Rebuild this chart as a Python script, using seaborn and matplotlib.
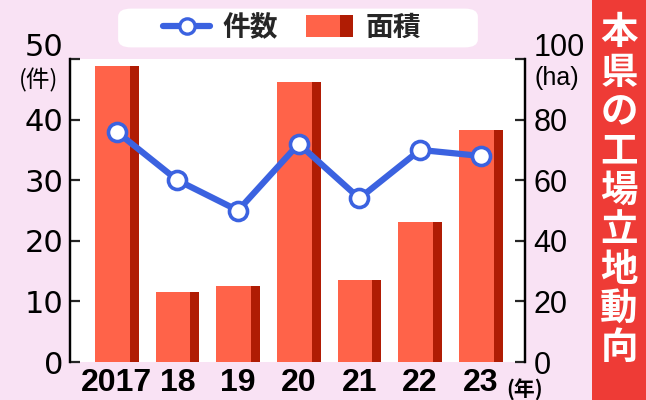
import matplotlib
matplotlib.use("Agg")
import matplotlib.pyplot as plt
import seaborn as sns
import pandas as pd
from matplotlib import font_manager
from matplotlib.patches import Rectangle, FancyBboxPatch
from matplotlib.lines import Line2D
from matplotlib.legend_handler import HandlerBase
import matplotlib.transforms as mtransforms

# ---- data ----
years = ["2017", "18", "19", "20", "21", "22", "23"]
counts = [38, 30, 25, 36, 27, 35, 34]          # 件数 (left axis)
areas = [97.6, 23.1, 25.0, 92.4, 27.0, 46.2, 76.5]  # 面積 ha (right axis)
left_ticks = [0, 10, 20, 30, 40, 50]
right_ticks = [0, 20, 40, 60, 80, 100]
title_text = "本県の工場立地動向"

# ---- style ----
BG = "#f9e2f4"
LIGHT = "#ff6349"
DARK = "#b01c04"
BLUE = "#3b62e0"
TITLE_RED = "#ee3b36"

sns.set_theme(style="white")
avail = {f.name for f in font_manager.fontManager.ttflist}
CJK = "Noto Sans CJK JP"
NARROW = "Liberation Sans Narrow" if "Liberation Sans Narrow" in avail else "Liberation Sans"
plt.rcParams["font.family"] = [CJK, "DejaVu Sans"]

fig = plt.figure(figsize=(6.46, 4.0), dpi=100, facecolor=BG)
W, H = 646, 400
ax = fig.add_axes([70 / W, 1 - 362 / H, (525 - 70) / W, (362 - 59) / H])
ax.set_facecolor("white")

df = pd.DataFrame({"year": years, "count": counts, "area": areas})

# bars (area) on primary axes, right scale
sns.barplot(data=df, x="year", y="area", ax=ax, color=LIGHT, saturation=1,
            width=0.72, edgecolor="none", linewidth=0)
for p in list(ax.patches):
    x0, w, h = p.get_x(), p.get_width(), p.get_height()
    dw = w * 0.2
    ax.add_patch(Rectangle((x0 + w - dw, 0), dw, h, facecolor=DARK,
                           edgecolor="none", zorder=p.get_zorder()))
ax.set_ylim(0, 100)
ax.set_xlim(-0.77, 6.73)

# line (counts) on twin axes, left scale
ax2 = ax.twinx()
sns.lineplot(data=df, x="year", y="count", ax=ax2, color=BLUE, lw=4.5,
             marker="o", markersize=13, markerfacecolor="white",
             markeredgecolor=BLUE, markeredgewidth=2.6, sort=False)
ax2.set_ylim(0, 50)
ax2.set_xlim(-0.77, 6.73)

# swap sides
ax.yaxis.tick_right()
ax.yaxis.set_label_position("right")
ax2.yaxis.tick_left()
ax2.yaxis.set_label_position("left")

for a in (ax, ax2):
    a.set_xlabel("")
    a.set_ylabel("")
    a.spines["top"].set_visible(False)
    a.spines["bottom"].set_visible(False)
    for s in ("left", "right"):
        a.spines[s].set_color("black")
        a.spines[s].set_linewidth(1.6)
    a.grid(False)

ax2.set_yticks(left_ticks)
ax2.set_yticklabels([str(t) for t in left_ticks], fontsize=22,
                    family="DejaVu Sans", color="black")
ax2.tick_params(axis="y", which="both", direction="in", length=7, width=1.6,
                pad=5, left=True, right=False, labelleft=True, labelright=False)

ax.set_yticks(right_ticks)
ax.set_yticklabels([str(t) for t in right_ticks], fontsize=22,
                   family=NARROW, color="black")
ax.tick_params(axis="y", which="both", direction="in", length=7, width=1.6,
               pad=6, left=False, right=True, labelleft=False, labelright=True)

ax.set_xticks(range(len(years)))
ax.set_xticklabels(years, fontsize=23, family=NARROW, fontweight="bold", color="black")
ax.tick_params(axis="x", length=0, pad=4)
ax2.tick_params(axis="x", length=0, labelbottom=False)

# shift top labels (50, 100) upward
for lab in (ax2.get_yticklabels()[-1], ax.get_yticklabels()[-1]):
    lab.set_transform(lab.get_transform() +
                      mtransforms.ScaledTranslation(0, 15 / 100, fig.dpi_scale_trans))

# unit labels
fig.text(39 / W, 1 - 80 / H, "(件)", ha="center", va="center", fontsize=17,
         family=[CJK], color="black")
fig.text(535 / W, 1 - 78 / H, "(ha)", ha="left", va="center", fontsize=18,
         family=[NARROW], color="black")
ax.text(6.73, -0.094, "(年)", transform=mtransforms.blended_transform_factory(ax.transData, ax.transAxes),
        ha="center", va="center", fontsize=15, family=[CJK], fontweight="bold", color="black")

# legend box
fig.patches.append(FancyBboxPatch((122 / W, 1 - 45 / H), (474 - 122) / W, 34 / H,
                                  boxstyle="round,pad=0.006,rounding_size=0.02",
                                  transform=fig.transFigure, facecolor="white",
                                  edgecolor="none", zorder=0))


class BarHandler(HandlerBase):
    def create_artists(self, legend, orig_handle, xdescent, ydescent, width,
                       height, fontsize, trans):
        r1 = Rectangle((-xdescent, -ydescent - 1), width * 0.72, height + 2,
                       facecolor=LIGHT, edgecolor="none", transform=trans)
        r2 = Rectangle((-xdescent + width * 0.72, -ydescent - 1), width * 0.28,
                       height + 2, facecolor=DARK, edgecolor="none", transform=trans)
        return [r1, r2]


line_h = Line2D([], [], color=BLUE, lw=4.5, marker="o", markersize=11,
                markerfacecolor="white", markeredgecolor=BLUE, markeredgewidth=2.4)
bar_h = Rectangle((0, 0), 1, 1)
leg = fig.legend([line_h, bar_h], ["件数", "面積"], loc="center",
                 bbox_to_anchor=(292 / W, 1 - 28 / H), ncol=2, frameon=False,
                 handler_map={Rectangle: BarHandler()},
                 prop={"family": CJK, "weight": "bold", "size": 20},
                 handlelength=1.7, handletextpad=0.45, columnspacing=1.0)

# title bar on the right
fig.patches.append(Rectangle((592 / W, 0), (W - 592) / W, 1, transform=fig.transFigure,
                             facecolor=TITLE_RED, edgecolor="none", zorder=0))
pitch = 39.4
for i, ch in enumerate(title_text):
    yc = 13 + pitch * (i + 0.5)
    fig.text(619 / W, 1 - yc / H, ch, ha="center", va="center", fontsize=27,
             family=[CJK], fontweight="bold", color="white")

fig.savefig("out.png", dpi=100, facecolor=BG)
